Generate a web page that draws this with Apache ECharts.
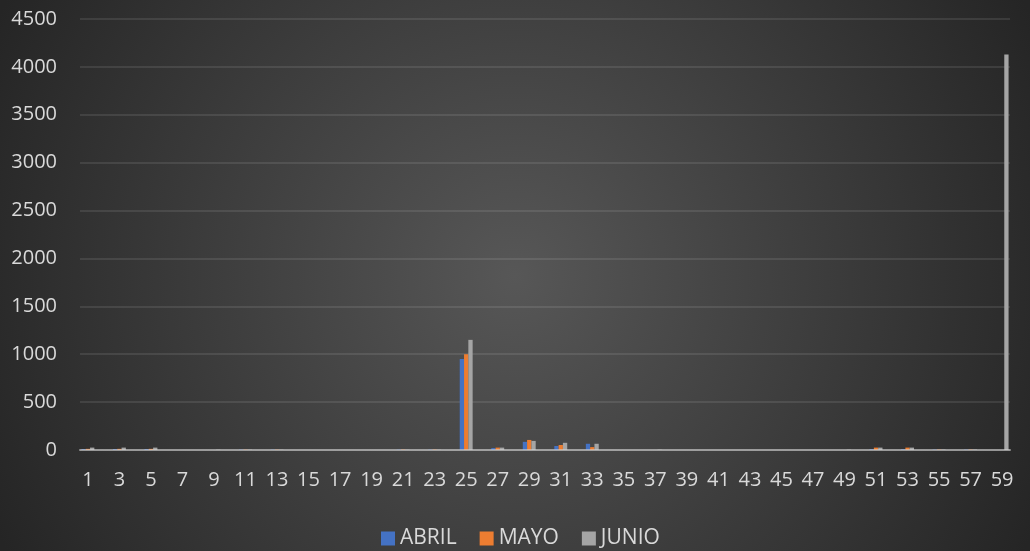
<!DOCTYPE html>
<html>
<head>
<meta charset="utf-8">
<style>
html,body{margin:0;padding:0;background:#2a2a2a;}
#chart{width:1030px;height:551px;}
</style>
<script src="https://cdn.jsdelivr.net/npm/echarts@6/dist/echarts.min.js"></script>
</head>
<body>
<div id="chart"></div>
<script>
// Categories 1..59
const categories = ["1","2","3","4","5","6","7","8","9","10","11","12","13","14","15","16","17","18","19","20",
"21","22","23","24","25","26","27","28","29","30","31","32","33","34","35","36","37","38","39","40",
"41","42","43","44","45","46","47","48","49","50","51","52","53","54","55","56","57","58","59"];

const abril = [10,0,10,0,10,0,0,0,0,0,4,0,4,0,0,0,0,0,0,0,
4,0,4,0,950,0,20,0,85,0,42,0,65,0,0,0,0,0,0,0,
0,0,0,0,0,0,0,0,0,0,8,0,8,0,4,0,4,0,0];

const mayo = [12,0,12,0,12,0,0,0,0,0,4,0,4,0,0,0,0,0,0,0,
5,0,5,0,1000,0,25,0,105,0,52,0,30,0,0,0,0,0,0,0,
0,0,0,0,0,0,0,0,0,0,25,0,25,0,5,0,5,0,0];

const junio = [25,0,25,0,25,0,0,0,3,0,3,0,3,0,0,0,0,0,0,0,
3,0,3,0,1150,0,25,0,95,0,75,0,65,0,0,0,3,0,0,0,
0,0,0,0,0,0,0,0,3,0,25,0,25,0,4,0,4,0,4130];

const seriesNames = ["ABRIL","MAYO","JUNIO"];
const seriesColors = ["#4472C4","#ED7D31","#A5A5A5"];

const chart = echarts.init(document.getElementById('chart'), null, {renderer:'canvas'});
const font = "'Open Sans', sans-serif";
const txt = '#d9d9d9';

chart.setOption({
  animation:false,
  backgroundColor:{
    type:'radial', x:0.5, y:0.5, r:1.05,
    colorStops:[{offset:0,color:'#575757'},{offset:1,color:'#252525'}]
  },
  textStyle:{fontFamily:font},
  grid:{left:80,right:20,top:19,bottom:101,containLabel:false},
  legend:{
    top:523, left:376,
    icon:'rect', itemWidth:14, itemHeight:14, itemGap:23,
    textStyle:{color:txt,fontSize:21,fontFamily:font},
    data:seriesNames
  },
  xAxis:{
    type:'category', data:categories, z:3,
    axisTick:{show:false},
    axisLine:{lineStyle:{color:'rgba(210,210,210,0.6)',width:2}},
    axisLabel:{color:txt,fontSize:20,fontFamily:font,interval:1,margin:20}
  },
  yAxis:{
    type:'value', min:0, max:4500, interval:500,
    axisLine:{show:false}, axisTick:{show:false},
    axisLabel:{color:txt,fontSize:20,fontFamily:font,margin:23,formatter:function(v){return String(v);}},
    splitLine:{lineStyle:{color:'rgba(255,255,255,0.13)',width:1.5}}
  },
  series:[
    {name:seriesNames[0],type:'bar',data:abril,itemStyle:{color:seriesColors[0]},barGap:'0%',barCategoryGap:'18%'},
    {name:seriesNames[1],type:'bar',data:mayo,itemStyle:{color:seriesColors[1]},barGap:'0%',barCategoryGap:'18%'},
    {name:seriesNames[2],type:'bar',data:junio,itemStyle:{color:seriesColors[2]},barGap:'0%',barCategoryGap:'18%'}
  ]
});
</script>
</body>
</html>
